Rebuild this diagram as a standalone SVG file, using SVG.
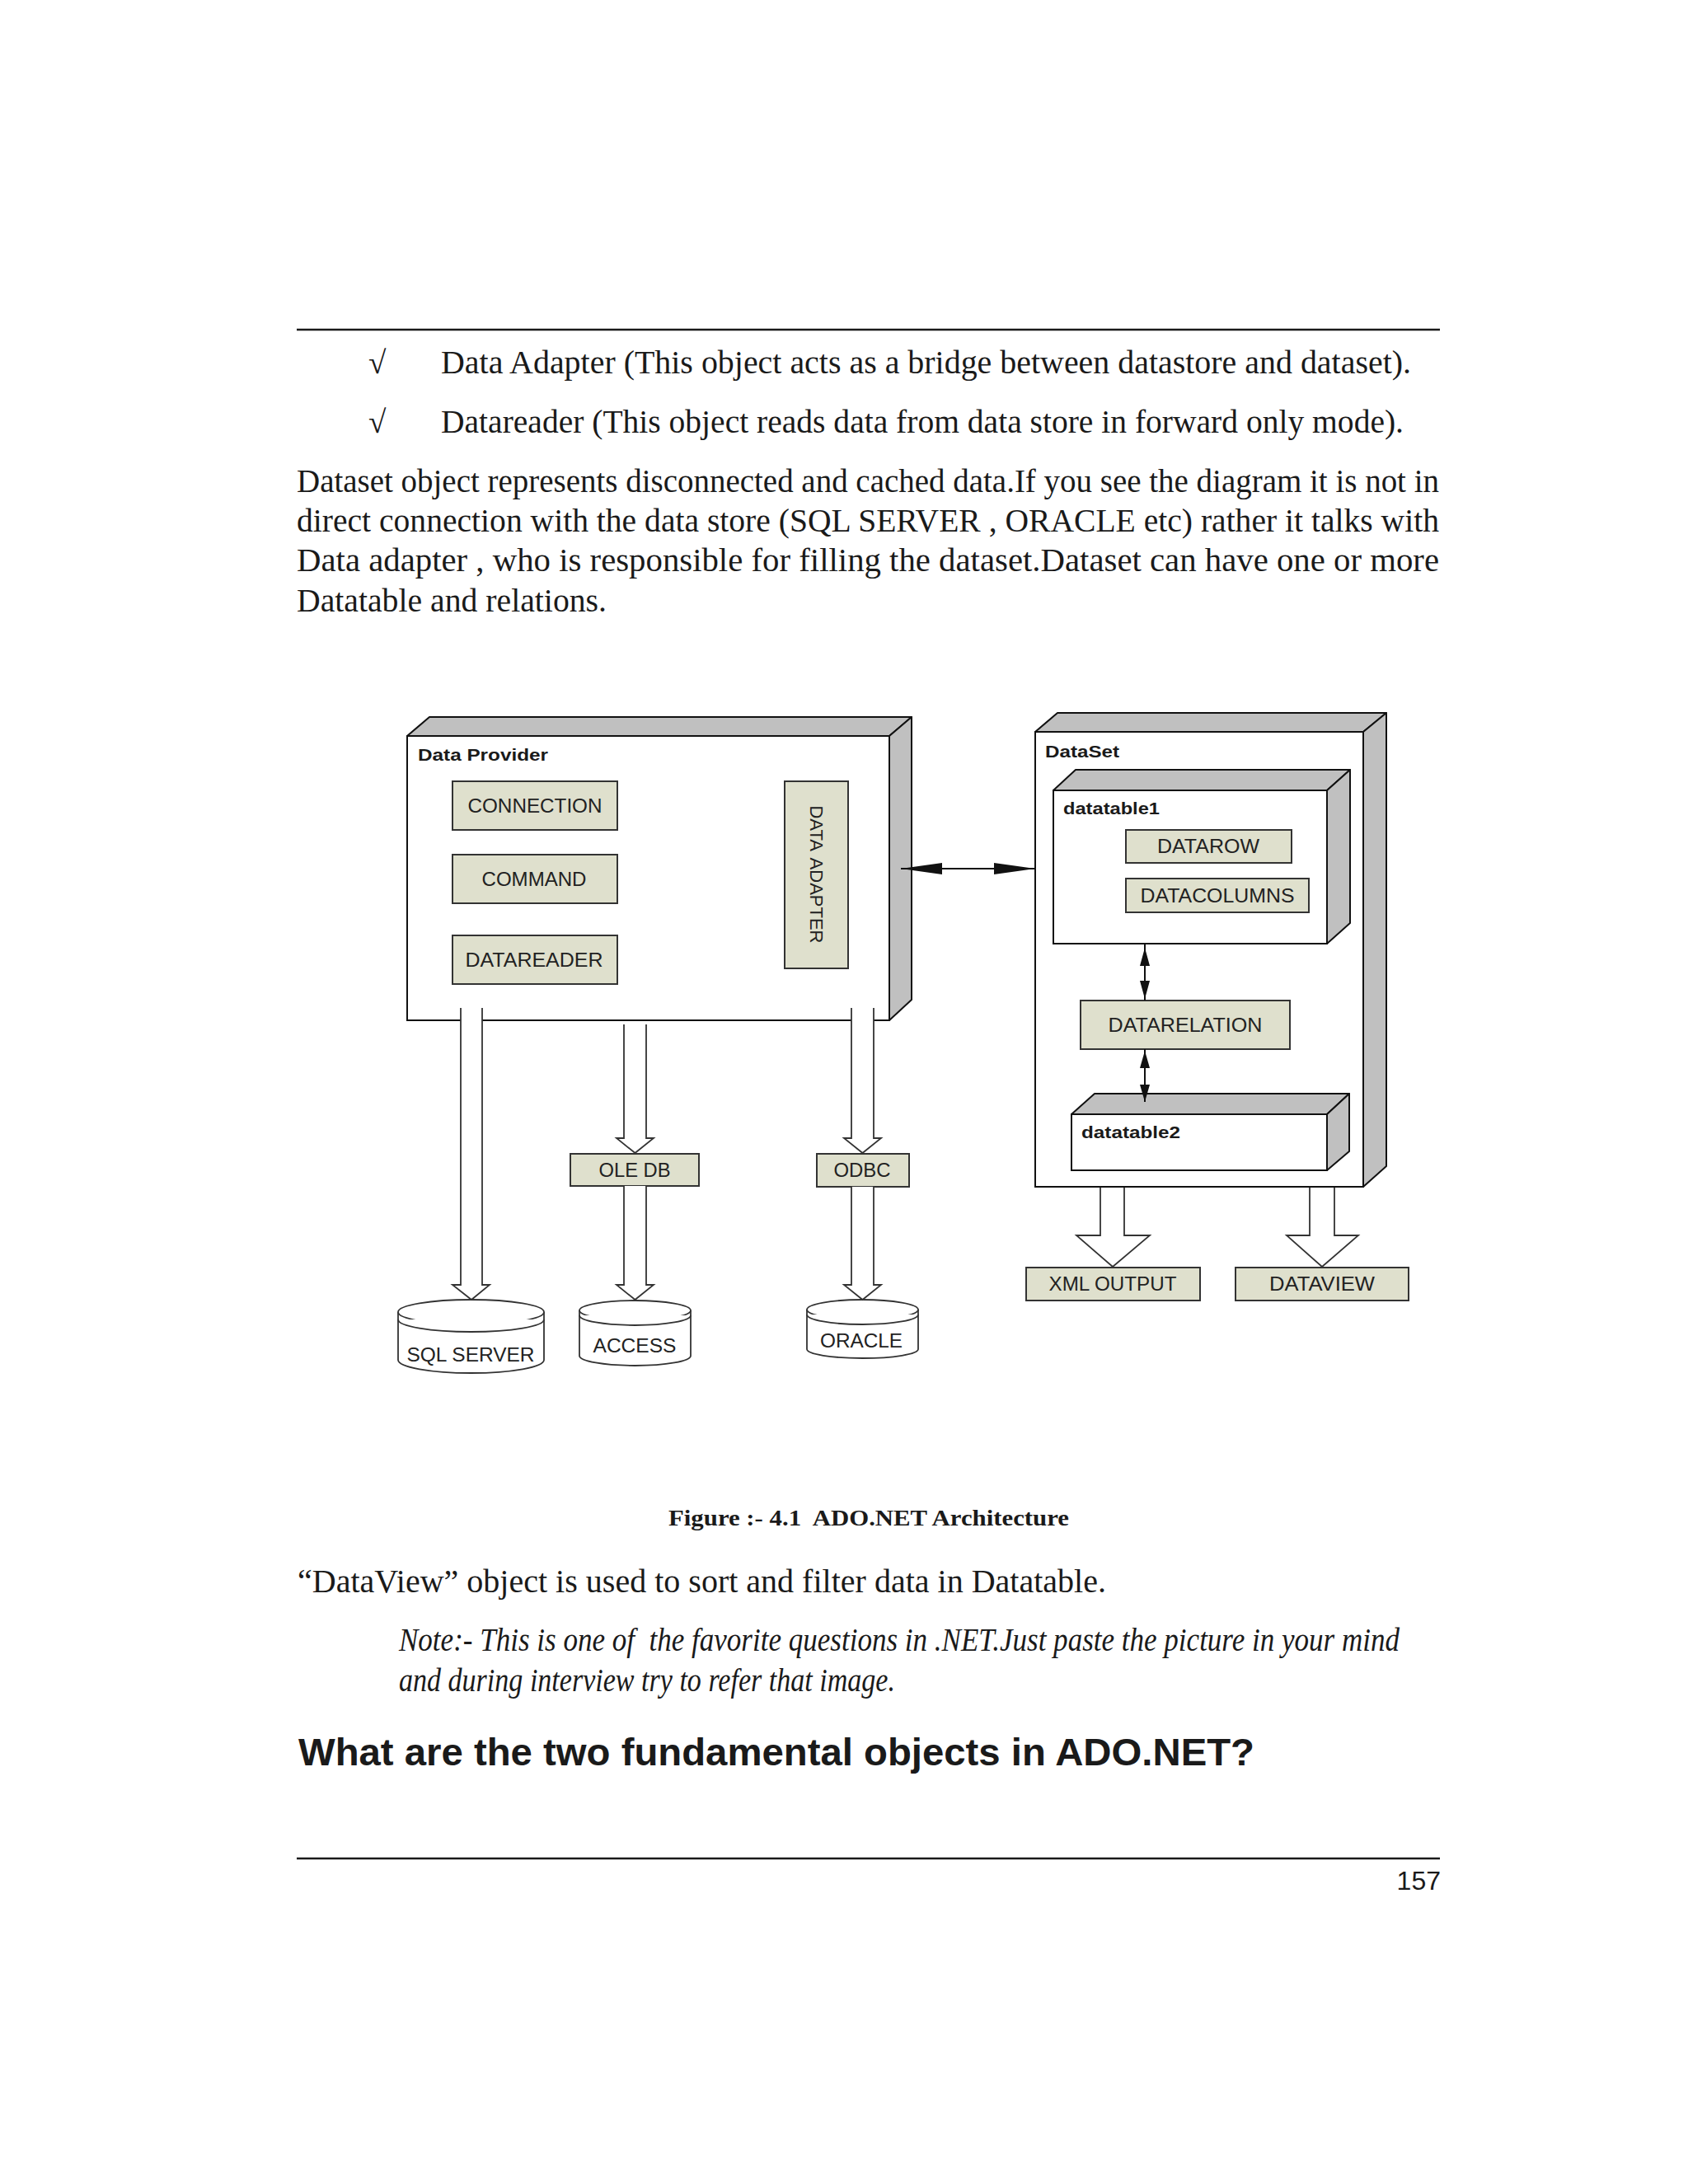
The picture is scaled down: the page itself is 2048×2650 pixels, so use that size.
<svg xmlns="http://www.w3.org/2000/svg" width="2048" height="2650" viewBox="0 0 2048 2650">
<style>
.body{font-family:"Liberation Serif","Times New Roman",serif;font-size:39px;fill:#1a1a1a}
.ital{font-family:"Liberation Serif","Times New Roman",serif;font-size:39px;font-style:italic;fill:#1a1a1a}
.cap{font-family:"Liberation Serif","Times New Roman",serif;font-size:27px;font-weight:bold;fill:#1a1a1a}
.head{font-family:"Liberation Sans",Arial,sans-serif;font-size:47px;font-weight:bold;fill:#1a1a1a}
.pno{font-family:"Liberation Sans",Arial,sans-serif;font-size:32px;fill:#1a1a1a}
.rule{stroke:#1a1a1a;stroke-width:2.5}
.front{fill:#ffffff;stroke:#111;stroke-width:2}
.side{fill:#c0c0c0;stroke:#111;stroke-width:2;stroke-linejoin:round}
.comp{fill:#dfe0cd;stroke:#333;stroke-width:2}
.lbl{font-family:"Liberation Sans",Arial,sans-serif;font-size:23px;fill:#222;text-anchor:middle}
.ttl{font-family:"Liberation Sans",Arial,sans-serif;font-size:21px;font-weight:bold;fill:#1a1a1a}
.hollow{fill:#ffffff;stroke:#333;stroke-width:1.8;stroke-linejoin:miter}
.cyl{fill:#ffffff;stroke:#333;stroke-width:1.8}
.line{stroke:#111;stroke-width:2;fill:none}
.ah{fill:#111;stroke:none}
</style>

<g id="page-text">
<line class="rule" x1="360" y1="400" x2="1747" y2="400"/>
<text class="body" x="447" y="453">√</text>
<text class="body" x="535" y="453" textLength="1177" lengthAdjust="spacingAndGlyphs">Data Adapter (This object acts as a bridge between datastore and dataset).</text>
<text class="body" x="447" y="525">√</text>
<text class="body" x="535" y="525" textLength="1168" lengthAdjust="spacingAndGlyphs">Datareader (This object reads data from data store in forward only mode).</text>
<text class="body" x="360" y="597" textLength="1386" lengthAdjust="spacingAndGlyphs">Dataset object represents disconnected and cached data.If you see the diagram it is not in</text>
<text class="body" x="360" y="645" textLength="1386" lengthAdjust="spacingAndGlyphs">direct connection with the data store (SQL SERVER , ORACLE etc) rather it talks with</text>
<text class="body" x="360" y="693" textLength="1386" lengthAdjust="spacingAndGlyphs">Data adapter , who is responsible for filling the dataset.Dataset can have one or more</text>
<text class="body" x="360" y="742" textLength="376" lengthAdjust="spacingAndGlyphs">Datatable and relations.</text>
<text class="cap" x="811" y="1851" textLength="486" lengthAdjust="spacingAndGlyphs">Figure :- 4.1&#160; ADO.NET Architecture</text>
<text class="body" x="361" y="1932" textLength="981" lengthAdjust="spacingAndGlyphs">“DataView” object is used to sort and filter data in Datatable.</text>
<text class="ital" x="484" y="2003" textLength="1214" lengthAdjust="spacingAndGlyphs">Note:- This is one of&#160; the favorite questions in .NET.Just paste the picture in your mind</text>
<text class="ital" x="484" y="2052" textLength="602" lengthAdjust="spacingAndGlyphs">and during interview try to refer that image.</text>
<text class="head" x="362" y="2142" textLength="1160" lengthAdjust="spacingAndGlyphs">What are the two fundamental objects in ADO.NET?</text>
<line class="rule" x1="360" y1="2255" x2="1747" y2="2255"/>
<text class="pno" x="1748" y="2293" text-anchor="end">157</text>
</g>

<g id="data-provider">
<polygon class="side" points="494,893 521,870 1106,870 1079,893"/>
<polygon class="side" points="1079,893 1106,870 1106,1213 1079,1238"/>
<rect class="front" x="494" y="893" width="585" height="345"/>
<text class="ttl" x="507" y="923" textLength="158" lengthAdjust="spacingAndGlyphs">Data Provider</text>
</g>
<g id="connection">
<rect class="comp" x="549" y="948" width="200" height="59"/>
<text class="lbl" x="649" y="986" textLength="163" lengthAdjust="spacingAndGlyphs">CONNECTION</text>
</g>
<g id="command">
<rect class="comp" x="549" y="1037" width="200" height="59"/>
<text class="lbl" x="648" y="1075" textLength="127" lengthAdjust="spacingAndGlyphs">COMMAND</text>
</g>
<g id="datareader">
<rect class="comp" x="549" y="1135" width="200" height="59"/>
<text class="lbl" x="648" y="1173" textLength="167" lengthAdjust="spacingAndGlyphs">DATAREADER</text>
</g>
<g id="data-adapter">
<rect class="comp" x="952" y="948" width="77" height="227"/>
<text class="lbl" x="983" y="1061" transform="rotate(90 983 1061)" style="font-size:22px;word-spacing:4px">DATA ADAPTER</text>
</g>

<g id="dataset">
<polygon class="side" points="1256,888 1283,865 1682,865 1654,888"/>
<polygon class="side" points="1654,888 1682,865 1682,1415 1654,1440"/>
<rect class="front" x="1256" y="888" width="398" height="552"/>
<text class="ttl" x="1268" y="919" textLength="90" lengthAdjust="spacingAndGlyphs">DataSet</text>
</g>
<g id="datatable1">
<polygon class="side" points="1278,959 1305,934 1638,934 1610,959"/>
<polygon class="side" points="1610,959 1638,934 1638,1120 1610,1145"/>
<rect class="front" x="1278" y="959" width="332" height="186"/>
<text class="ttl" x="1290" y="988" textLength="117" lengthAdjust="spacingAndGlyphs">datatable1</text>
</g>
<g id="datarow">
<rect class="comp" x="1366" y="1007" width="201" height="40"/>
<text class="lbl" x="1466" y="1035" textLength="124" lengthAdjust="spacingAndGlyphs">DATAROW</text>
</g>
<g id="datacolumns">
<rect class="comp" x="1366" y="1066" width="222" height="41"/>
<text class="lbl" x="1477" y="1095" textLength="187" lengthAdjust="spacingAndGlyphs">DATACOLUMNS</text>
</g>
<g id="datarelation">
<rect class="comp" x="1311" y="1214" width="254" height="59"/>
<text class="lbl" x="1438" y="1252" textLength="187" lengthAdjust="spacingAndGlyphs">DATARELATION</text>
</g>
<g id="datatable2">
<polygon class="side" points="1300,1352 1328,1327 1637,1327 1610,1352"/>
<polygon class="side" points="1610,1352 1637,1327 1637,1397 1610,1420"/>
<rect class="front" x="1300" y="1352" width="310" height="68"/>
<text class="ttl" x="1312" y="1381" textLength="120" lengthAdjust="spacingAndGlyphs">datatable2</text>
</g>

<g id="oledb">
<rect class="comp" x="692" y="1400" width="156" height="39"/>
<text class="lbl" x="770" y="1428" textLength="87" lengthAdjust="spacingAndGlyphs">OLE DB</text>
</g>
<g id="odbc">
<rect class="comp" x="991" y="1400" width="112" height="40"/>
<text class="lbl" x="1046" y="1428" textLength="69" lengthAdjust="spacingAndGlyphs">ODBC</text>
</g>
<g id="xml-output">
<rect class="comp" x="1245" y="1538" width="211" height="40"/>
<text class="lbl" x="1350" y="1566" textLength="155" lengthAdjust="spacingAndGlyphs">XML OUTPUT</text>
</g>
<g id="dataview">
<rect class="comp" x="1499" y="1538" width="210" height="40"/>
<text class="lbl" x="1604" y="1566" textLength="128" lengthAdjust="spacingAndGlyphs">DATAVIEW</text>
</g>

<g id="sql-server">
<path class="cyl" d="M483,1592 L483,1650 A88.5,16 0 0 0 660,1650 L660,1592"/>
<ellipse class="cyl" cx="571.5" cy="1592" rx="88.5" ry="15"/>
<path class="cyl" fill="none" d="M483,1601 A88.5,15 0 0 0 660,1601"/>
<text class="lbl" x="571" y="1652" textLength="155" lengthAdjust="spacingAndGlyphs">SQL SERVER</text>
</g>
<g id="access">
<path class="cyl" d="M703,1590 L703,1645 A67.5,12 0 0 0 838,1645 L838,1590"/>
<ellipse class="cyl" cx="770.5" cy="1590" rx="67.5" ry="12"/>
<path class="cyl" fill="none" d="M703,1596 A67.5,12 0 0 0 838,1596"/>
<text class="lbl" x="770" y="1641" textLength="101" lengthAdjust="spacingAndGlyphs">ACCESS</text>
</g>
<g id="oracle">
<path class="cyl" d="M979,1589 L979,1637 A67.5,11 0 0 0 1114,1637 L1114,1589"/>
<ellipse class="cyl" cx="1046.5" cy="1589" rx="67.5" ry="12"/>
<path class="cyl" fill="none" d="M979,1595 A67.5,12 0 0 0 1114,1595"/>
<text class="lbl" x="1045" y="1635" textLength="100" lengthAdjust="spacingAndGlyphs">ORACLE</text>
</g>

<g id="connectors">
<path class="hollow" d="M559,1223 L559,1559 L549,1559 L572,1577 L594,1559 L585,1559 L585,1223"/>
<path class="hollow" d="M757,1243 L757,1381 L748,1381 L770.5,1399 L793,1381 L784,1381 L784,1243"/>
<path class="hollow" d="M757,1439 L757,1559 L748,1559 L770.5,1577 L793,1559 L784,1559 L784,1439"/>
<path class="hollow" d="M1033,1223 L1033,1381 L1024,1381 L1046.5,1399 L1069,1381 L1060,1381 L1060,1223"/>
<path class="hollow" d="M1033,1440 L1033,1559 L1024,1559 L1046.5,1577 L1069,1559 L1060,1559 L1060,1440"/>
<path class="hollow" d="M1335,1441 L1335,1499 L1306,1499 L1350,1537 L1395,1499 L1364,1499 L1364,1441"/>
<path class="hollow" d="M1589,1441 L1589,1499 L1561,1499 L1604,1537 L1648,1499 L1619,1499 L1619,1441"/>
<line class="line" x1="1093" y1="1054" x2="1256" y2="1054"/>
<polygon class="ah" points="1093,1054 1143,1047 1143,1061"/>
<polygon class="ah" points="1256,1054 1206,1047 1206,1061"/>
<line class="line" x1="1389" y1="1146" x2="1389" y2="1214"/>
<polygon class="ah" points="1389,1150 1383,1172 1395,1172"/>
<polygon class="ah" points="1389,1212 1383,1190 1395,1190"/>
<line class="line" x1="1389" y1="1273" x2="1389" y2="1337"/>
<polygon class="ah" points="1389,1275 1383,1296 1395,1296"/>
<polygon class="ah" points="1389,1337 1383,1316 1395,1316"/>
</g>
</svg>
